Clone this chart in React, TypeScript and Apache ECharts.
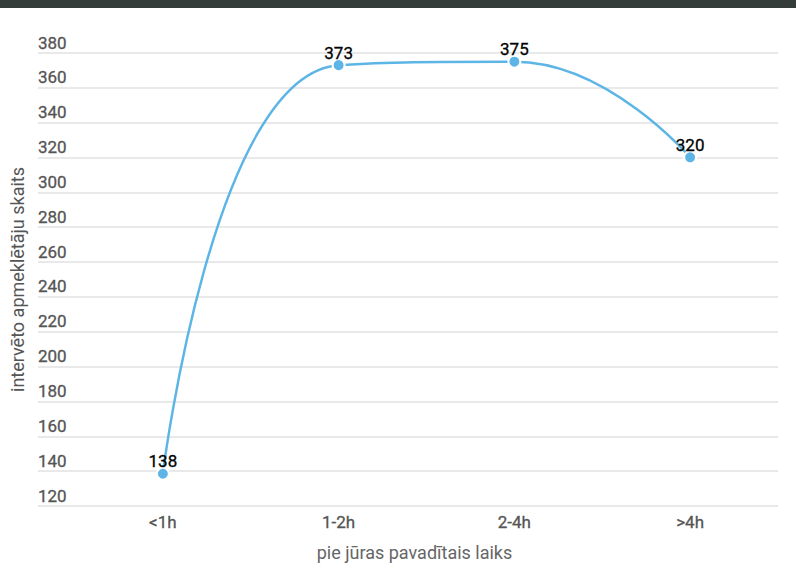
import React, { useEffect, useRef } from "react";
import * as echarts from "echarts";

const categories = ["<1h", "1-2h", "2-4h", ">4h"];
const visitors = [138, 373, 375, 320];
const yMin = 120;
const yMax = 380;
const yStep = 20;

export default function App() {
  const ref = useRef<HTMLDivElement>(null);
  useEffect(() => {
    if (!ref.current) return;
    const chart = echarts.init(ref.current, undefined, { renderer: "svg" });
    const font = "Roboto, 'Noto Sans', sans-serif";
    chart.setOption({
      animation: false,
      backgroundColor: "#ffffff",
      textStyle: { fontFamily: font },
      graphic: [
        {
          type: "rect",
          left: 0,
          top: 0,
          shape: { width: 796, height: 8 },
          style: { fill: "#353d3b" },
        },
      ],
      grid: [
        { left: 38, right: 18, top: 53, bottom: 60 },
        { left: 75, right: 18, top: 53, bottom: 60 },
      ],
      xAxis: [
        { gridIndex: 0, type: "value", show: false, min: 0, max: 1 },
        {
          gridIndex: 1,
          type: "category",
          data: categories,
          boundaryGap: true,
          axisLine: { show: false },
          axisTick: { show: false },
          axisLabel: {
            color: "#555",
            fontSize: 17,
            margin: 8,
            fontFamily: font,
            textBorderColor: "#555",
            textBorderWidth: 0.3,
          },
          name: "pie jūras pavadītais laiks",
          nameLocation: "middle",
          nameGap: 38,
          nameTextStyle: {
            color: "#666",
            fontSize: 18,
            fontFamily: font,
            padding: [0, 24, 0, 0],
          },
        },
      ],
      yAxis: [
        {
          gridIndex: 0,
          type: "value",
          min: yMin,
          max: yMax,
          interval: yStep,
          axisLine: { show: false },
          axisTick: { show: false },
          splitLine: { lineStyle: { color: "#e2e2e2", width: 1.5 } },
          axisLabel: {
            inside: true,
            margin: 0,
            verticalAlign: "bottom",
            padding: [0, 0, 2, 0],
            color: "#555",
            fontSize: 17,
            fontFamily: font,
            textBorderColor: "#555",
            textBorderWidth: 0.3,
          },
          name: "intervēto apmeklētāju skaits",
          nameLocation: "middle",
          nameGap: 12,
          nameTextStyle: { color: "#555", fontSize: 18, fontFamily: font },
        },
        {
          gridIndex: 1,
          type: "value",
          min: yMin,
          max: yMax,
          interval: yStep,
          show: false,
          splitLine: { show: false },
        },
      ],
      series: [
        {
          type: "line",
          xAxisIndex: 1,
          yAxisIndex: 1,
          data: visitors,
          smooth: 0.5,
          symbol: "circle",
          symbolSize: 12,
          lineStyle: { color: "#5db5e6", width: 2.5 },
          itemStyle: { color: "#5db5e6", borderColor: "#ffffff", borderWidth: 2 },
          label: {
            show: true,
            position: "top",
            distance: 0,
            offset: [0, 3],
            color: "#000",
            fontSize: 17,
            fontFamily: font,
            textBorderColor: "#000",
            textBorderWidth: 0.3,
          },
        },
      ],
    });
    return () => chart.dispose();
  }, []);
  return (
    <div
      ref={ref}
      style={{ position: "fixed", left: 0, top: 0, width: 796, height: 566 }}
    />
  );
}
